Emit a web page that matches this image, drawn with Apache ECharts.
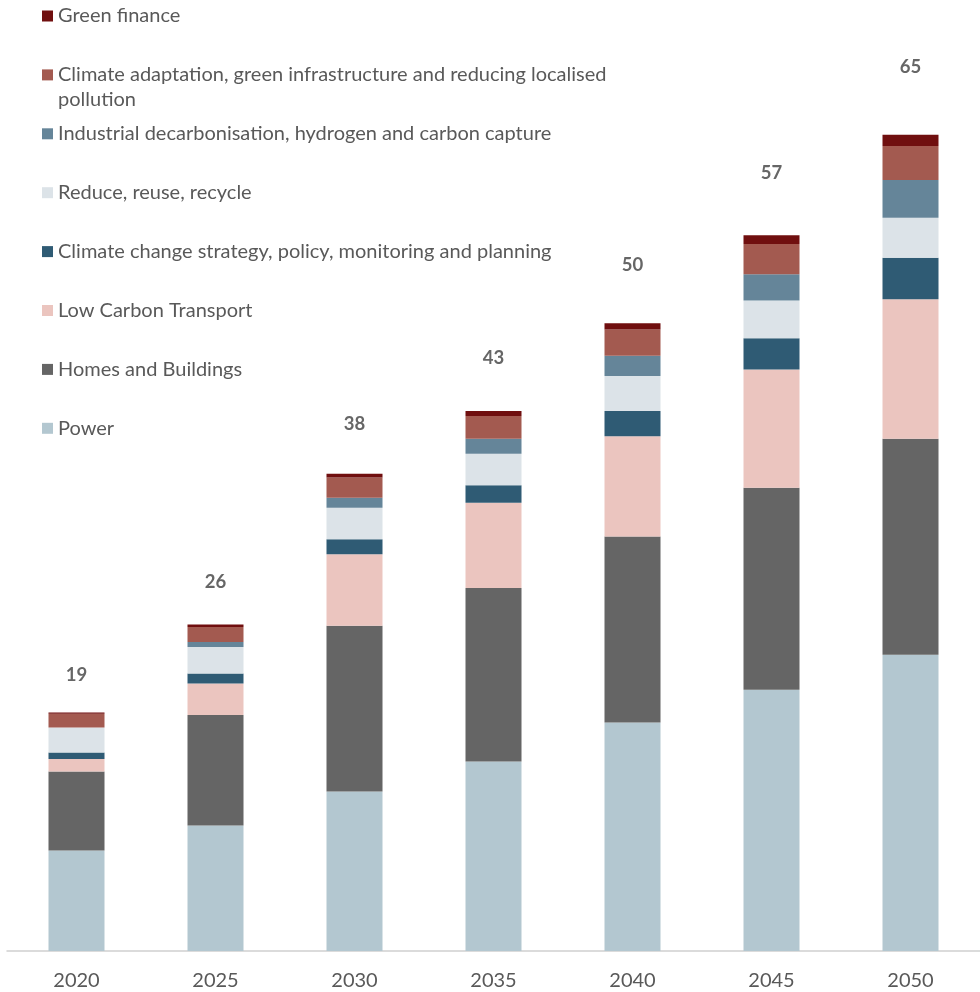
<!DOCTYPE html>
<html>
<head>
<meta charset="utf-8">
<script src="https://cdn.jsdelivr.net/npm/echarts@6/dist/echarts.min.js"></script>
<style>
  html, body { margin: 0; padding: 0; background: #ffffff; }
  #chart { width: 980px; height: 992px; }
</style>
</head>
<body>
<div id="chart"></div>
<script>
// Categories (years)
const years = ['2020', '2025', '2030', '2035', '2040', '2045', '2050'];

// Stack components, bottom to top
const power              = [8.0, 10.0, 12.7, 15.1, 18.2, 20.8, 23.6];
const homesBuildings     = [6.3,  8.8, 13.2, 13.8, 14.8, 16.1, 17.2];
const lowCarbonTransport = [1.0,  2.5,  5.7,  6.8,  8.0,  9.4, 11.1];
const climateStrategy    = [0.5,  0.8,  1.2,  1.4,  2.0,  2.5,  3.3];
const reduceReuse        = [2.0,  2.1,  2.5,  2.5,  2.8,  3.0,  3.2];
const industrialDecarb   = [0.0,  0.4,  0.8,  1.2,  1.6,  2.1,  3.0];
const climateAdaptation  = [1.1,  1.2,  1.6,  1.8,  2.1,  2.4,  2.7];
const greenFinance       = [0.1,  0.2,  0.3,  0.4,  0.5,  0.7,  0.9];

// Series names (legend text) and fill colours, same order as the stack
const seriesNames = [
  'Power',
  'Homes and Buildings',
  'Low Carbon Transport',
  'Climate change strategy, policy, monitoring and planning',
  'Reduce, reuse, recycle',
  'Industrial decarbonisation, hydrogen and carbon capture',
  'Climate adaptation, green infrastructure and reducing localised pollution',
  'Green finance'
];
const seriesColors = ['#b3c7d0', '#656565', '#ebc5bf', '#2f5b74', '#dce3e8', '#658599', '#a35a50', '#700f0f'];
const seriesValues = [power, homesBuildings, lowCarbonTransport, climateStrategy,
                      reduceReuse, industrialDecarb, climateAdaptation, greenFinance];

// Total shown above each column
const totals = years.map((_, i) =>
  Math.round(seriesValues.reduce((s, arr) => s + arr[i], 0)));

const FONT = 'Lato, "Open Sans", sans-serif';
const TEXT_COLOR = '#595959';

// Legend runs top to bottom in reverse stack order, one entry per row
const legendOrder = seriesNames.slice().reverse();
const ROW0 = 16, ROW_STEP = 58.9;
const legends = legendOrder.map((name, i) => {
  const twoLine = name.indexOf('localised pollution') >= 0;
  return {
    show: true,
    orient: 'vertical',
    left: 42,
    top: ROW0 + ROW_STEP * i - (twoLine ? 37.5 : 12.5),
    padding: 0,
    itemWidth: 11,
    itemHeight: 11,
    icon: 'rect',
    data: [name],
    formatter: twoLine ? (n) => '\n' + n.replace(' pollution', '\npollution') : '{name}',
    textStyle: { color: TEXT_COLOR, fontSize: 20, fontFamily: FONT, lineHeight: 25 }
  };
});

const barSeries = seriesNames.map((name, i) => ({
  name: name,
  type: 'bar',
  stack: 'total',
  barWidth: 56,
  itemStyle: { color: seriesColors[i] },
  emphasis: { disabled: true },
  data: seriesValues[i]
}));

const chart = echarts.init(document.getElementById('chart'), null, { renderer: 'canvas' });
chart.setOption({
  backgroundColor: '#ffffff',
  animation: false,
  legend: legends,
  grid: { left: 7, width: 987, top: 72, bottom: 41, containLabel: false },
  xAxis: {
    type: 'category',
    data: years,
    axisLine: { show: true, lineStyle: { color: '#d0d0d0', width: 1.5 } },
    axisTick: { show: false },
    axisLabel: { color: TEXT_COLOR, fontSize: 20, fontFamily: FONT, margin: 20 }
  },
  yAxis: [
    { type: 'value', show: false, min: 0, max: 70 },
    { type: 'value', show: false, min: 0, max: 66.5 }
  ],
  series: barSeries.concat([{
    name: 'Total',
    type: 'scatter',
    yAxisIndex: 1,
    symbolSize: 0,
    silent: true,
    clip: false,
    data: totals,
    label: {
      show: true,
      position: 'inside',
      offset: [0, -25],
      formatter: (p) => String(p.value),
      color: '#404040',
      fontSize: 18.5,
      fontWeight: 'bold',
      fontFamily: FONT
    }
  }])
});
</script>
</body>
</html>
